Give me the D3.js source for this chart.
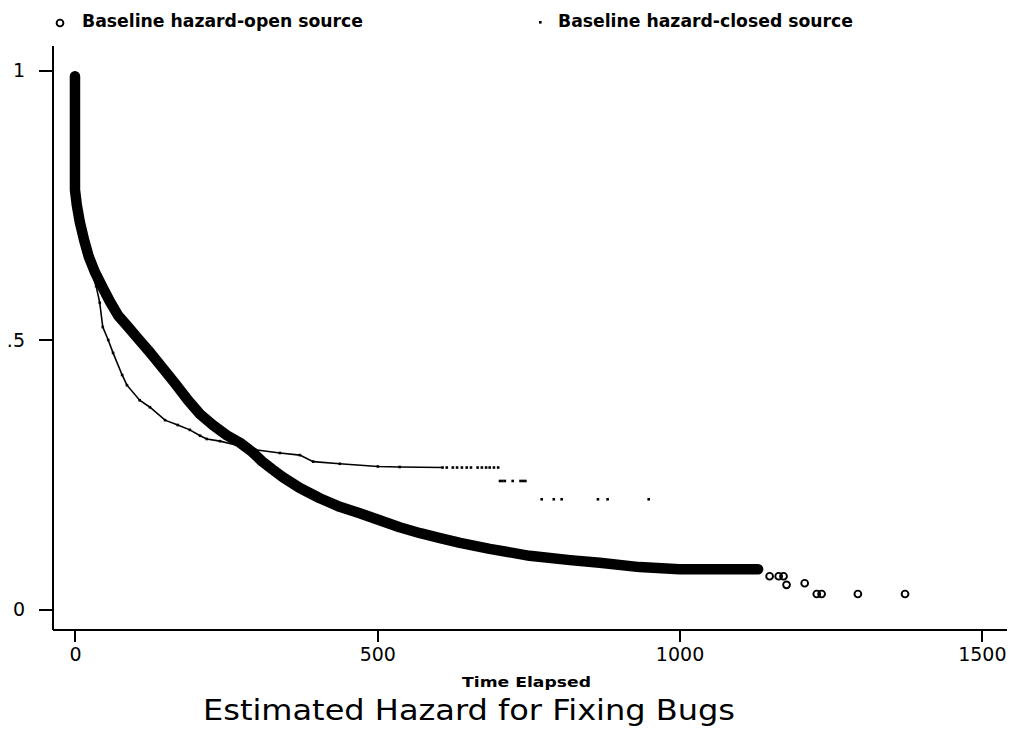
<!DOCTYPE html>
<html>
<head>
<meta charset="utf-8">
<script src="https://cdnjs.cloudflare.com/ajax/libs/d3/7.8.5/d3.min.js"></script>
<style>
   body { margin: 0; background: #fff; }
   text { fill: #000; }
</style>
</head>
<body>
<div id="chart"></div>
<script>
// open source baseline hazard (dense run of markers)
const openTime = [0, 0, 0, 0, 3, 8, 15, 23, 33, 45, 58, 71, 88, 104, 121, 142, 165, 187, 207, 228, 251, 273, 293, 309, 326, 344, 372, 405, 438, 471, 504, 537, 571, 604, 637, 686, 752, 819, 868, 934, 1000, 1067, 1130];
const openHazard = [0.99, 0.909, 0.816, 0.779, 0.751, 0.719, 0.686, 0.654, 0.626, 0.599, 0.571, 0.546, 0.524, 0.503, 0.481, 0.452, 0.420, 0.388, 0.362, 0.342, 0.323, 0.309, 0.292, 0.275, 0.260, 0.245, 0.225, 0.206, 0.190, 0.178, 0.165, 0.152, 0.141, 0.132, 0.123, 0.112, 0.099, 0.091, 0.086, 0.078, 0.074, 0.074, 0.074];
// open source, isolated markers at the end
const openTailTime = [1149, 1164, 1172, 1177, 1207, 1227, 1235, 1295, 1373];
const openTailHazard = [0.061, 0.061, 0.061, 0.045, 0.048, 0.028, 0.028, 0.028, 0.028];

// closed source baseline hazard
const closedTime = [0, 0, 10, 25, 35, 41, 46, 55, 63, 78, 86, 107, 124, 149, 170, 190, 207, 218, 240, 273, 298, 339, 372, 394, 438, 501, 537, 608];
const closedHazard = [0.99, 0.80, 0.70, 0.635, 0.60, 0.569, 0.524, 0.50, 0.476, 0.435, 0.416, 0.388, 0.375, 0.351, 0.342, 0.333, 0.322, 0.316, 0.312, 0.303, 0.296, 0.290, 0.286, 0.274, 0.270, 0.265, 0.264, 0.263];
const closedTailTime = [615, 625, 632, 640, 648, 655, 666, 673, 680, 686, 693, 700, 703, 707, 711, 724, 737, 741, 745, 772, 792, 805, 865, 881, 949];
const closedTailHazard = [0.263, 0.263, 0.263, 0.263, 0.263, 0.263, 0.263, 0.263, 0.263, 0.263, 0.263, 0.263, 0.238, 0.238, 0.238, 0.238, 0.238, 0.238, 0.238, 0.204, 0.204, 0.204, 0.204, 0.204, 0.204];

const xTicks = [0, 500, 1000, 1500];
const yTicks = [0, 0.5, 1];
const yTickLabels = ["0", ".5", "1"];
const legendLabels = ["Baseline hazard-open source", "Baseline hazard-closed source"];
const xTitle = "Time Elapsed";
const chartTitle = "Estimated Hazard for Fixing Bugs";

const w = 1011;
const h = 734;

const xScale = d3.scaleLinear()
                 .domain([-38, 1540])
                 .range([52, 1006]);

const yScale = d3.scaleLinear()
                 .domain([-0.037, 1.048])
                 .range([629, 45]);

const svg = d3.select("#chart")
              .append("svg")
              .attr("width", w)
              .attr("height", h);

const openPts = openTime.map((t, i) => [t, openHazard[i]]);
const openTail = openTailTime.map((t, i) => [t, openTailHazard[i]]);
const closedPts = closedTime.map((t, i) => [t, closedHazard[i]]);
const closedTail = closedTailTime.map((t, i) => [t, closedTailHazard[i]]);

const line = d3.line()
               .x(d => xScale(d[0]))
               .y(d => yScale(d[1]));

// closed source: thin line of small dots
svg.append("path")
   .datum(closedPts)
   .attr("d", line)
   .attr("fill", "none")
   .attr("stroke", "#000")
   .attr("stroke-width", 1.6);

svg.selectAll(".cdot")
   .data(closedPts.concat(closedTail))
   .enter()
   .append("rect")
   .attr("class", "cdot")
   .attr("x", d => xScale(d[0]) - 1.3)
   .attr("y", d => yScale(d[1]) - 1.3)
   .attr("width", 2.6)
   .attr("height", 2.6)
   .attr("fill", "#000");

// open source: the markers are packed so tight they merge into a band
svg.append("path")
   .datum(openPts)
   .attr("d", line)
   .attr("fill", "none")
   .attr("stroke", "#000")
   .attr("stroke-width", 10.5)
   .attr("stroke-linejoin", "round")
   .attr("stroke-linecap", "round");

svg.selectAll(".odot")
   .data(openPts.concat(openTail))
   .enter()
   .append("circle")
   .attr("class", "odot")
   .attr("cx", d => xScale(d[0]))
   .attr("cy", d => yScale(d[1]))
   .attr("r", 3.4)
   .attr("fill", "none")
   .attr("stroke", "#000")
   .attr("stroke-width", 1.9);

// axes
const xAxis = d3.axisBottom(xScale)
                .tickValues(xTicks)
                .tickFormat(d3.format("d"))
                .tickSize(13)
                .tickSizeOuter(0)
                .tickPadding(6);

const yAxis = d3.axisLeft(yScale)
                .tickValues(yTicks)
                .tickFormat((d, i) => yTickLabels[i])
                .tickSize(13)
                .tickSizeOuter(0)
                .tickPadding(14);

const gx = svg.append("g")
   .attr("id", "x-axis")
   .attr("transform", "translate(0," + yScale.range()[0] + ")")
   .call(xAxis);

const gy = svg.append("g")
   .attr("id", "y-axis")
   .attr("transform", "translate(" + xScale.range()[0] + ",0)")
   .call(yAxis);

[gx, gy].forEach(g => {
   g.selectAll("path, line").attr("stroke-width", 2).attr("shape-rendering", "crispEdges");
   g.selectAll("text")
    .attr("font-family", "DejaVu Sans")
    .attr("font-size", 19);
});

// legend
const legend = svg.append("g").attr("font-family", "DejaVu Sans").attr("font-weight", "bold").attr("font-size", 18);

legend.append("circle")
   .attr("cx", 60).attr("cy", 23).attr("r", 3.4)
   .attr("fill", "none").attr("stroke", "#000").attr("stroke-width", 1.9);
legend.append("text")
   .attr("x", 82).attr("y", 27)
   .attr("textLength", 281).attr("lengthAdjust", "spacingAndGlyphs")
   .text(legendLabels[0]);

legend.append("rect")
   .attr("x", 539).attr("y", 21).attr("width", 2.6).attr("height", 2.6)
   .attr("fill", "#000");
legend.append("text")
   .attr("x", 558).attr("y", 27)
   .attr("textLength", 295).attr("lengthAdjust", "spacingAndGlyphs")
   .text(legendLabels[1]);

svg.append("text")
   .attr("x", 462).attr("y", 687)
   .attr("font-family", "DejaVu Sans").attr("font-weight", "bold").attr("font-size", 14)
   .attr("textLength", 129).attr("lengthAdjust", "spacingAndGlyphs")
   .text(xTitle);

svg.append("text")
   .attr("x", 203).attr("y", 720)
   .attr("font-family", "DejaVu Sans").attr("font-size", 29)
   .attr("textLength", 532).attr("lengthAdjust", "spacingAndGlyphs")
   .text(chartTitle);
</script>
</body>
</html>
